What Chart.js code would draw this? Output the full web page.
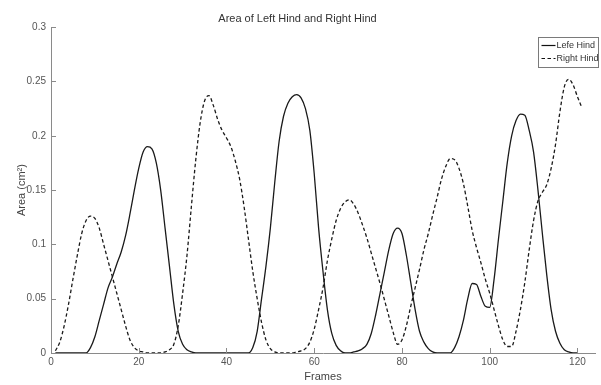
<!DOCTYPE html>
<html>
<head>
<meta charset="utf-8">
<script src="https://cdn.jsdelivr.net/npm/chart.js@4/dist/chart.umd.min.js"></script>
<style>
html,body{margin:0;padding:0;background:#fff;}
#wrap{width:601px;height:385px;}
</style>
</head>
<body>
<div id="wrap"><canvas id="c" width="601" height="385"></canvas></div>
<script>
// ---- data ----
const frames = Array.from({length: 121}, (_, i) => i + 1);
const leftHind = [
  0,0,0,0,0,0,0,0,
  0.005,0.015,0.03,0.045,0.06,0.07,0.082,0.093,0.108,0.128,0.15,0.17,
  0.185,0.19,0.188,0.175,0.15,0.115,0.08,0.045,0.02,0.008,0.003,0.001,
  0,0,0,0,0,0,0,0,0,0,0,0,0,
  0.005,0.02,0.05,0.08,0.115,0.157,0.195,0.218,0.23,0.236,0.238,0.235,0.225,0.205,0.165,0.115,0.075,0.04,0.018,0.007,0.002,
  0,0,0.001,0.002,0.004,0.008,0.018,0.035,0.055,0.075,0.095,0.11,0.115,0.11,0.09,0.065,0.04,0.02,0.01,0.004,0.001,
  0,0,0,0,
  0.005,0.015,0.03,0.05,0.064,0.063,0.052,0.043,0.042,0.068,0.105,0.14,0.175,0.2,0.214,0.22,0.219,0.205,0.185,0.15,0.11,0.072,0.04,0.02,0.009,0.003,0.001,0,0
];
const rightHind = [
  0.002,0.01,0.025,0.045,0.068,0.09,0.11,0.122,0.126,0.124,0.115,0.1,0.085,0.07,0.055,0.04,0.025,0.012,0.005,0.002,
  0.001,0,0,0,0,0.001,0.003,
  0.008,0.025,0.055,0.09,0.135,0.178,0.212,0.232,0.237,0.228,0.215,0.205,0.198,0.19,0.177,0.16,0.135,0.105,0.075,0.05,0.028,0.012,0.004,
  0.001,0,0,0,0,0.001,0.002,
  0.004,0.01,0.022,0.04,0.06,0.085,0.105,0.122,0.133,0.139,0.141,0.137,0.129,0.118,0.106,0.092,0.078,0.064,0.049,0.034,0.019,0.008,
  0.012,0.025,0.043,0.06,0.077,0.095,0.11,0.127,0.143,0.16,0.172,0.179,0.178,0.17,0.156,0.135,0.113,0.097,0.083,0.068,0.055,0.04,0.025,0.012,0.006,
  0.006,0.02,0.04,0.065,0.095,0.122,0.14,0.148,0.155,0.17,0.192,0.222,0.245,0.252,0.247,0.236,0.226
];
const seriesNames = ['Lefe Hind', 'Right Hind'];
const xTicks = [0, 20, 40, 60, 80, 100, 120];
const yTicks = [0, 0.05, 0.1, 0.15, 0.2, 0.25, 0.3];

const toPoints = (vals) => vals.map((v, i) => ({x: frames[i], y: v}));

const FONT = "'Liberation Sans', Arial, sans-serif";
const AX = '#8a8a8a';

const tickPlugin = {
  id: 'inwardTicks',
  afterDraw(chart) {
    const {ctx, chartArea: a, scales: {x, y}} = chart;
    ctx.save();
    ctx.strokeStyle = AX;
    ctx.lineWidth = 1;
    ctx.beginPath();
    xTicks.forEach(t => {
      const px = Math.round(x.getPixelForValue(t)) + 0.5;
      ctx.moveTo(px, a.bottom); ctx.lineTo(px, a.bottom - 5);
    });
    yTicks.forEach(t => {
      const py = Math.round(y.getPixelForValue(t)) + 0.5;
      ctx.moveTo(a.left, py); ctx.lineTo(a.left + 5, py);
    });
    ctx.stroke();
    // legend box
    const bx = 538.5, by = 37.5, bw = 60, bh = 30;
    ctx.fillStyle = '#fff';
    ctx.fillRect(bx, by, bw, bh);
    ctx.strokeStyle = '#7a7a7a';
    ctx.strokeRect(bx, by, bw, bh);
    ctx.font = '9px ' + FONT;
    ctx.textBaseline = 'middle';
    ctx.fillStyle = '#333';
    chart.data.datasets.forEach((ds, i) => {
      const ly = by + 8 + i * 13;
      ctx.beginPath();
      ctx.strokeStyle = '#111';
      ctx.lineWidth = 1.2;
      ctx.setLineDash(ds.borderDash || []);
      ctx.moveTo(bx + 3, ly); ctx.lineTo(bx + 17, ly);
      ctx.stroke();
      ctx.setLineDash([]);
      ctx.fillText(ds.label, bx + 18, ly + 0.5);
    });
    ctx.restore();
  }
};

new Chart(document.getElementById('c'), {
  type: 'line',
  data: {
    datasets: [
      {label: seriesNames[0], data: toPoints(leftHind), borderColor: '#1a1a1a', borderWidth: 1.3, pointRadius: 0, cubicInterpolationMode: 'monotone', fill: false},
      {label: seriesNames[1], data: toPoints(rightHind), borderColor: '#1a1a1a', borderWidth: 1.3, borderDash: [3.5, 2.5], pointRadius: 0, cubicInterpolationMode: 'monotone', fill: false}
    ]
  },
  options: {
    responsive: false,
    animation: false,
    layout: {padding: {left: 0, right: 6, top: 0, bottom: 0}},
    plugins: {
      legend: {display: false},
      tooltip: {enabled: false},
      title: {
        display: true,
        text: 'Area of Left Hind and Right Hind',
        color: '#333',
        font: {family: FONT, size: 11, weight: 'normal'},
        padding: {top: 12, bottom: 2}
      }
    },
    scales: {
      x: {
        type: 'linear',
        min: 0, max: 124,
        afterFit(s) { s.height = 32; },
        afterBuildTicks(s) { s.ticks = xTicks.map(v => ({value: v})); },
        ticks: {color: '#555', font: {family: FONT, size: 10}, padding: 3, maxRotation: 0},
        grid: {display: true, drawOnChartArea: false, drawTicks: false},
        border: {display: true, color: AX, width: 1},
        title: {display: true, text: 'Frames', color: '#444', font: {family: FONT, size: 11}, padding: {top: 0, bottom: 1}}
      },
      y: {
        type: 'linear',
        min: 0, max: 0.3,
        afterFit(s) { s.width = 51; },
        afterBuildTicks(s) { s.ticks = yTicks.map(v => ({value: v})); },
        ticks: {color: '#555', font: {family: FONT, size: 10}, padding: 5, callback: v => String(+v.toFixed(2))},
        grid: {display: true, drawOnChartArea: false, drawTicks: false},
        border: {display: true, color: AX, width: 1},
        title: {display: true, text: 'Area (cm²)', color: '#444', font: {family: FONT, size: 11}, padding: {top: 15, bottom: 0}}
      }
    }
  },
  plugins: [tickPlugin]
});
</script>
</body>
</html>
